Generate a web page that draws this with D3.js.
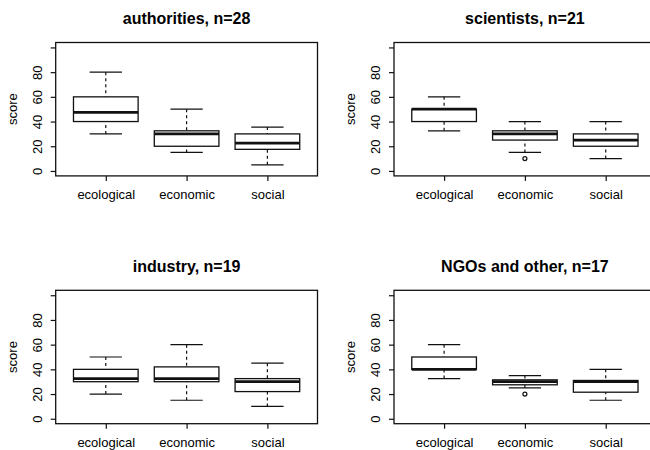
<!DOCTYPE html>
<html>
<head>
<meta charset="utf-8">
<script src="https://cdn.jsdelivr.net/npm/d3@7"></script>
<style>
  body { margin: 0; background: #fff; }
  svg { font-family: "Liberation Sans", Arial, sans-serif; }
</style>
</head>
<body>
<svg width="650" height="450"></svg>
<script>
// panel titles
const titles = ["authorities, n=28", "scientists, n=21", "industry, n=19", "NGOs and other, n=17"];
const categories = ["ecological", "economic", "social"];
const yTicks = [0, 20, 40, 60, 80, 100];

// box stats per category: [lower whisker, q1, median, q3, upper whisker]
const authorities = [[30, 40, 47.5, 60, 80], [15, 20, 30, 32.5, 50], [5, 17.5, 22.5, 30, 35.5]];
const scientists  = [[32.5, 40, 50, 50, 60], [15, 25, 30, 32.5, 40], [10, 20, 25, 30, 40]];
const industry    = [[20, 30, 32.5, 40, 50], [15, 30, 32.5, 42, 60], [10, 22, 30, 32.5, 45]];
const ngos        = [[32.5, 40, 40, 50, 60], [25, 27.5, 30, 31.5, 35], [15, 21.5, 30, 31, 40]];

// outliers per category
const authoritiesOut = [[], [], []];
const scientistsOut  = [[], [10], []];
const industryOut    = [[], [], []];
const ngosOut        = [[], [20], []];

const panels = [
  {title: titles[0], stats: authorities, out: authoritiesOut, left: 55.7, top: 42.5},
  {title: titles[1], stats: scientists,  out: scientistsOut,  left: 394,  top: 42.5},
  {title: titles[2], stats: industry,    out: industryOut,    left: 55.7, top: 290.3},
  {title: titles[3], stats: ngos,        out: ngosOut,        left: 394,  top: 290.3}
];

const svg = d3.select("svg");
const w = 261.8, h = 133.4;
const ink = "#111";

var x = d3.scaleLinear().domain([0.38, 3.62]).range([0, w]);
var y = d3.scaleLinear().domain([-4, 104]).range([h, 0]);
const boxW = x(1.4) - x(1), capW = x(1.2) - x(1);

panels.forEach(function(p) {
  var g = svg.append("g").attr("transform", "translate(" + p.left + "," + p.top + ")");

  // y axis, labels parallel to the axis
  var ya = g.append("g")
    .call(d3.axisLeft(y).tickValues(yTicks).tickSize(5)
      .tickFormat(d => d === 100 ? "" : d));
  ya.select(".domain").remove();
  ya.selectAll("line").attr("stroke", ink).attr("stroke-width", 1.2);
  ya.selectAll("text")
    .attr("transform", "rotate(-90)")
    .attr("x", 0).attr("y", -14).attr("dy", 0)
    .attr("text-anchor", "middle")
    .attr("font-size", 13).attr("fill", "#000");

  // x axis
  var xa = g.append("g").attr("transform", "translate(0," + h + ")")
    .call(d3.axisBottom(x).tickValues([1, 2, 3]).tickSize(5)
      .tickFormat((d, i) => categories[i]));
  xa.select(".domain").remove();
  xa.selectAll("line").attr("stroke", ink).attr("stroke-width", 1.2);
  xa.selectAll("text").attr("y", 23).attr("dy", 0)
    .attr("font-size", 13).attr("fill", "#000");

  // boxes
  p.stats.forEach(function(s, i) {
    var cx = x(i + 1);
    var bg = g.append("g").attr("stroke", ink).attr("fill", "none");
    // whiskers
    bg.append("line").attr("x1", cx).attr("x2", cx).attr("y1", y(s[0])).attr("y2", y(s[1]))
      .attr("stroke-dasharray", "3,3").attr("stroke-width", 1.2);
    bg.append("line").attr("x1", cx).attr("x2", cx).attr("y1", y(s[4])).attr("y2", y(s[3]))
      .attr("stroke-dasharray", "3,3").attr("stroke-width", 1.2);
    // caps
    [s[0], s[4]].forEach(function(v) {
      bg.append("line").attr("x1", cx - capW).attr("x2", cx + capW)
        .attr("y1", y(v)).attr("y2", y(v)).attr("stroke-width", 1.2);
    });
    // box
    bg.append("rect")
      .attr("x", cx - boxW).attr("width", 2 * boxW)
      .attr("y", y(s[3])).attr("height", y(s[1]) - y(s[3]))
      .attr("fill", "#fff").attr("stroke-width", 1.3);
    // median
    bg.append("line").attr("x1", cx - boxW).attr("x2", cx + boxW)
      .attr("y1", y(s[2])).attr("y2", y(s[2])).attr("stroke-width", 2.8);
    // outliers
    p.out[i].forEach(function(v) {
      bg.append("circle").attr("cx", cx).attr("cy", y(v)).attr("r", 2)
        .attr("stroke-width", 1.2);
    });
  });

  // plot frame
  g.append("rect").attr("width", w).attr("height", h)
    .attr("fill", "none").attr("stroke", ink).attr("stroke-width", 1.3);

  g.append("text").attr("x", w / 2).attr("y", -18.5)
    .attr("text-anchor", "middle").attr("font-weight", "bold").attr("font-size", 16)
    .text(p.title);

  g.append("text").attr("transform", "rotate(-90)")
    .attr("x", -h / 2).attr("y", -39)
    .attr("text-anchor", "middle").attr("font-size", 13)
    .text("score");
});
</script>
</body>
</html>
